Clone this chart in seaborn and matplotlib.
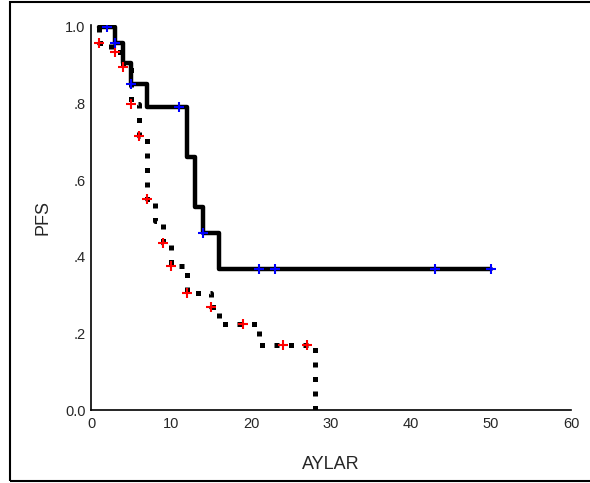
import numpy as np
import pandas as pd
import matplotlib
matplotlib.use('Agg')
import matplotlib.pyplot as plt
from matplotlib.patches import Rectangle
import seaborn as sns

# Kaplan-Meier steps (months, PFS)
solid_time = [1, 3, 4, 5, 7, 12, 13, 14, 16, 50]
solid_surv = [1.0, 0.958, 0.907, 0.851, 0.791, 0.66, 0.53, 0.462, 0.368, 0.368]
solid_cens_time = [2, 3, 5, 11, 14, 21, 23, 43, 50]
solid_cens_surv = [1.0, 0.958, 0.851, 0.791, 0.462, 0.368, 0.368, 0.368, 0.368]

dot_time = [1, 1, 2.5, 4, 5, 6, 7, 8, 9, 10, 12, 15, 16, 21, 28, 28]
dot_surv = [1.0, 0.958, 0.935, 0.896, 0.80, 0.715, 0.55, 0.493, 0.436, 0.376,
            0.305, 0.269, 0.225, 0.17, 0.17, 0.0]
dot_cens_time = [1, 3, 4, 5, 6, 7, 9, 10, 12, 15, 19, 24, 27]
dot_cens_surv = [0.958, 0.935, 0.896, 0.80, 0.715, 0.55, 0.436, 0.376,
                 0.305, 0.269, 0.225, 0.17, 0.17]

x_ticks = [0, 10, 20, 30, 40, 50, 60]
y_ticks = [0.0, 0.2, 0.4, 0.6, 0.8, 1.0]
y_labels = ['0.0', '.2', '.4', '.6', '.8', '1.0']

sns.set_style('white')
plt.rcParams['font.family'] = ['Liberation Sans', 'DejaVu Sans']

fig = plt.figure(figsize=(5.9, 4.83), dpi=100)
ax = fig.add_axes([91 / 590, 73 / 483, 480 / 590, 385 / 483])

solid = pd.DataFrame({'t': solid_time, 's': solid_surv})
dotted = pd.DataFrame({'t': dot_time, 's': dot_surv})

sns.lineplot(data=dotted, x='t', y='s', ax=ax, sort=False, estimator=None,
             drawstyle='steps-post', color='black', linewidth=3.6,
             linestyle=(0, (1, 1.9)), dash_capstyle='butt')
sns.lineplot(data=solid, x='t', y='s', ax=ax, sort=False, estimator=None,
             drawstyle='steps-post', color='black', linewidth=3.2)

sns.scatterplot(x=dot_cens_time, y=dot_cens_surv, ax=ax, marker='+',
                color='red', s=50, linewidth=1.5, zorder=5)
sns.scatterplot(x=solid_cens_time, y=solid_cens_surv, ax=ax, marker='+',
                color='blue', s=50, linewidth=1.5, zorder=5)

ax.set_xlim(0, 60)
ax.set_ylim(0, 1.005)
ax.set_xticks(x_ticks)
ax.set_xticklabels([str(v) for v in x_ticks])
ax.set_yticks(y_ticks)
ax.set_yticklabels(y_labels)
ax.tick_params(axis='x', direction='out', length=2, width=3, pad=3,
               labelsize=10.5, color='black')
ax.tick_params(axis='y', length=0, pad=4, labelsize=10.5)

for side in ['top', 'right']:
    ax.spines[side].set_visible(False)
for side in ['left', 'bottom']:
    ax.spines[side].set_color('black')
    ax.spines[side].set_linewidth(1.2)

ax.set_xlabel('AYLAR', fontsize=13, labelpad=18)
ax.set_ylabel('PFS', fontsize=13, labelpad=10)

fig.patches.append(Rectangle((10 / 590, 2 / 483), 590 / 590, 479 / 483,
                             transform=fig.transFigure, fill=False,
                             edgecolor='black', linewidth=1.5))

fig.savefig('out.png', dpi=100)
